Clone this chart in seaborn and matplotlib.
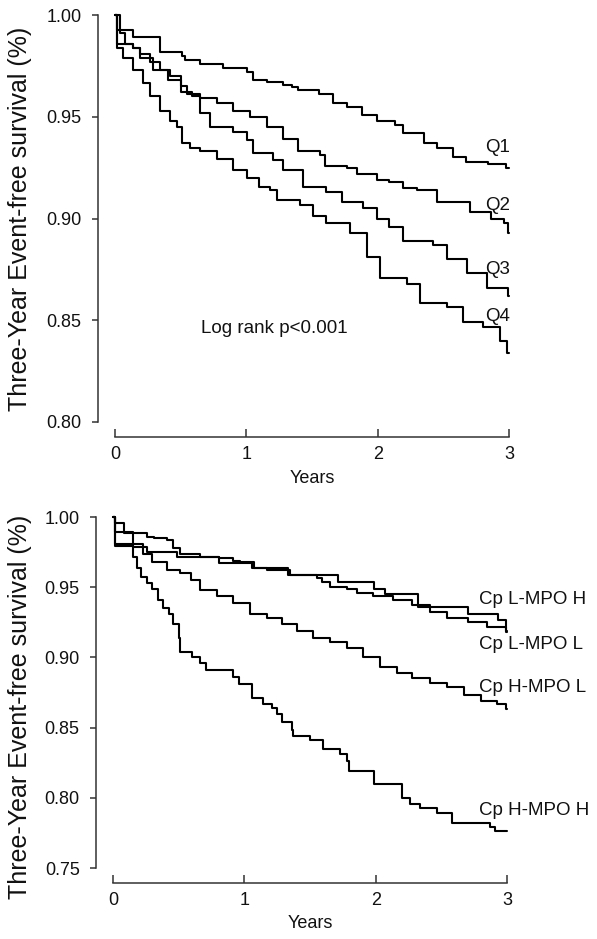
import numpy as np
import pandas as pd
import seaborn as sns
import matplotlib
matplotlib.use('Agg')
import matplotlib.pyplot as plt

# ---- data (step points: value holds from t onward)
q1_t = [0, 0.015, 0.137, 0.343, 0.51, 0.53, 0.65, 0.82, 1.005, 1.05, 1.16, 1.28, 1.35, 1.39, 1.55,
        1.66, 1.77, 1.88, 1.995, 2.13, 2.19, 2.35, 2.45, 2.57, 2.67, 2.84, 2.98, 3.0]
q1_s = [1.0, 0.9926, 0.989, 0.982, 0.980, 0.978, 0.976, 0.974, 0.972, 0.968, 0.967, 0.9656, 0.9646, 0.963, 0.961,
        0.9567, 0.955, 0.951, 0.948, 0.946, 0.942, 0.937, 0.9346, 0.930, 0.928, 0.927, 0.925, 0.925]

q2_t = [0, 0.04, 0.076, 0.137, 0.19, 0.27, 0.34, 0.42, 0.50, 0.55, 0.65, 0.78, 0.90, 1.03, 1.16, 1.28,
        1.39, 1.56, 1.60, 1.77, 1.84, 1.995, 2.09, 2.19, 2.30, 2.45, 2.70, 2.86, 2.96, 2.99, 3.0]
q2_s = [1.0, 0.991, 0.986, 0.984, 0.981, 0.977, 0.973, 0.970, 0.965, 0.961, 0.959, 0.957, 0.953, 0.950, 0.945, 0.939,
        0.933, 0.931, 0.926, 0.925, 0.922, 0.919, 0.918, 0.915, 0.914, 0.908, 0.903, 0.900, 0.898, 0.893, 0.893]

q3_t = [0, 0.015, 0.137, 0.19, 0.29, 0.40, 0.50, 0.59, 0.65, 0.72, 0.90, 1.005, 1.05, 1.20, 1.28, 1.43,
        1.61, 1.73, 1.89, 1.995, 2.09, 2.19, 2.42, 2.53, 2.68, 2.83, 2.99, 3.0]
q3_s = [1.0, 0.986, 0.984, 0.979, 0.973, 0.968, 0.962, 0.960, 0.952, 0.945, 0.9425, 0.9386, 0.932, 0.9287, 0.924, 0.9155,
        0.913, 0.908, 0.905, 0.900, 0.896, 0.889, 0.887, 0.880, 0.873, 0.866, 0.862, 0.862]

q4_t = [0, 0.015, 0.06, 0.137, 0.21, 0.27, 0.34, 0.42, 0.47, 0.51, 0.57, 0.65, 0.78, 0.90, 1.005, 1.10,
        1.18, 1.23, 1.41, 1.51, 1.61, 1.79, 1.92, 2.02, 2.22, 2.32, 2.53, 2.65, 2.80, 2.93, 2.985, 3.0]
q4_s = [1.0, 0.984, 0.979, 0.973, 0.9666, 0.960, 0.953, 0.948, 0.945, 0.937, 0.9346, 0.933, 0.929, 0.924, 0.920, 0.9155,
        0.914, 0.909, 0.9066, 0.901, 0.898, 0.893, 0.881, 0.871, 0.868, 0.8585, 0.8565, 0.849, 0.8467, 0.840, 0.834, 0.834]

lh_t = [0, 0.015, 0.15, 0.26, 0.49, 0.81, 1.06, 1.33, 1.71, 1.99, 2.07, 2.32, 2.70, 2.93, 2.99, 3.0]
lh_s = [1.0, 0.981, 0.9786, 0.975, 0.9714, 0.967, 0.9636, 0.959, 0.954, 0.949, 0.945, 0.936, 0.931, 0.927, 0.919, 0.919]

ll_t = [0, 0.015, 0.15, 0.26, 0.31, 0.41, 0.46, 0.51, 0.66, 0.81, 0.91, 0.97, 1.07, 1.17, 1.35, 1.55,
        1.59, 1.65, 1.78, 1.86, 1.98, 2.13, 2.28, 2.41, 2.54, 2.70, 2.85, 2.99, 3.0]
ll_s = [1.0, 0.989, 0.9886, 0.986, 0.985, 0.9836, 0.978, 0.974, 0.9714, 0.9707, 0.969, 0.968, 0.9636, 0.962, 0.9586, 0.9564,
        0.9536, 0.950, 0.949, 0.9457, 0.9436, 0.9407, 0.937, 0.932, 0.928, 0.925, 0.9214, 0.918, 0.918]

hl_t = [0, 0.015, 0.08, 0.15, 0.23, 0.30, 0.41, 0.51, 0.59, 0.66, 0.79, 0.91, 1.04, 1.17, 1.29, 1.40,
        1.52, 1.65, 1.78, 1.90, 2.03, 2.16, 2.28, 2.41, 2.54, 2.67, 2.80, 2.92, 2.99, 3.0]
hl_s = [1.0, 0.9957, 0.9886, 0.981, 0.974, 0.968, 0.962, 0.960, 0.955, 0.948, 0.944, 0.9386, 0.931, 0.928, 0.924, 0.919,
        0.914, 0.911, 0.907, 0.900, 0.893, 0.889, 0.885, 0.882, 0.8786, 0.873, 0.869, 0.867, 0.8636, 0.8636]

hh_t = [0, 0.015, 0.15, 0.18, 0.21, 0.26, 0.30, 0.34, 0.38, 0.43, 0.46, 0.50, 0.51, 0.60, 0.66, 0.71,
        0.91, 0.96, 1.06, 1.14, 1.21, 1.25, 1.29, 1.36, 1.37, 1.50, 1.60, 1.73, 1.78, 1.80, 1.99, 2.20,
        2.26, 2.34, 2.47, 2.58, 2.87, 2.91, 3.0]
hh_s = [1.0, 0.979, 0.9714, 0.964, 0.957, 0.953, 0.949, 0.941, 0.935, 0.931, 0.924, 0.914, 0.9036, 0.900, 0.896, 0.891,
        0.886, 0.881, 0.871, 0.867, 0.864, 0.860, 0.854, 0.848, 0.844, 0.841, 0.835, 0.831, 0.826, 0.819, 0.810, 0.800,
        0.7957, 0.793, 0.789, 0.782, 0.779, 0.7764, 0.7764]

top_labels = ['Q1', 'Q2', 'Q3', 'Q4']
top_label_y = [0.935, 0.9066, 0.8747, 0.8516]
bottom_labels = ['Cp L-MPO H', 'Cp L-MPO L', 'Cp H-MPO L', 'Cp H-MPO H']
bottom_label_y = [0.9414, 0.909, 0.8786, 0.7907]

year_ticks = [0, 1, 2, 3]
top_yticks = [0.80, 0.85, 0.90, 0.95, 1.00]
bottom_yticks = [0.75, 0.80, 0.85, 0.90, 0.95, 1.00]

sns.set_style('ticks')
plt.rcParams['font.family'] = ['Liberation Sans', 'DejaVu Sans']
plt.rcParams['text.color'] = '#111111'
plt.rcParams['axes.labelcolor'] = '#111111'
plt.rcParams['xtick.color'] = '#333333'
plt.rcParams['ytick.color'] = '#333333'
plt.rcParams['xtick.labelcolor'] = '#111111'
plt.rcParams['ytick.labelcolor'] = '#111111'

fig = plt.figure(figsize=(5.97, 9.39), dpi=100)
ax1 = fig.add_axes([0.1926, 0.5506, 0.660, 0.4334])
ax2 = fig.add_axes([0.1893, 0.0756, 0.660, 0.3738])


def draw_curves(ax, curves):
    for t, s in curves:
        sns.lineplot(x=t, y=s, ax=ax, color='black', linewidth=1.5, drawstyle='steps-post',
                     estimator=None, sort=False, clip_on=False)


def style_axes(ax, yticks, ymin, xlab_y):
    ax.set_xlim(0, 3)
    ax.set_ylim(ymin, 1.0)
    ax.set_xticks(year_ticks)
    ax.set_yticks(yticks)
    ax.set_yticklabels(['{:.2f}'.format(v) for v in yticks])
    ax.tick_params(axis='x', direction='in', length=6, width=1.1, pad=6, labelsize=13)
    ax.tick_params(axis='y', direction='out', length=4, width=1.1, pad=8, labelsize=13)
    for sp in ax.spines.values():
        sp.set_linewidth(1.1)
        sp.set_color('#333333')
    sns.despine(ax=ax, offset={'left': 12, 'bottom': 11}, trim=True)
    ax.set_xlabel('Years', fontsize=13)
    ax.xaxis.set_label_coords(0.5, xlab_y)
    ax.set_ylabel('Three-Year Event-free survival (%)', fontsize=18)


draw_curves(ax1, [(q1_t, q1_s), (q2_t, q2_s), (q3_t, q3_s), (q4_t, q4_s)])
style_axes(ax1, top_yticks, 0.80, -0.118)
ax1.yaxis.set_label_coords(-0.21, 0.5)
for lab, y in zip(top_labels, top_label_y):
    ax1.text(2.82, y, lab, fontsize=13.5, va='center', ha='left')
ax1.text(0.655, 0.846, 'Log rank p<0.001', fontsize=13.5, va='center', ha='left')

draw_curves(ax2, [(lh_t, lh_s), (ll_t, ll_s), (hl_t, hl_s), (hh_t, hh_s)])
style_axes(ax2, bottom_yticks, 0.75, -0.134)
ax2.yaxis.set_label_coords(-0.205, 0.46)
for lab, y in zip(bottom_labels, bottom_label_y):
    ax2.text(2.79, y, lab, fontsize=13.5, va='center', ha='left', clip_on=False)

fig.savefig('out.png', dpi=100)
